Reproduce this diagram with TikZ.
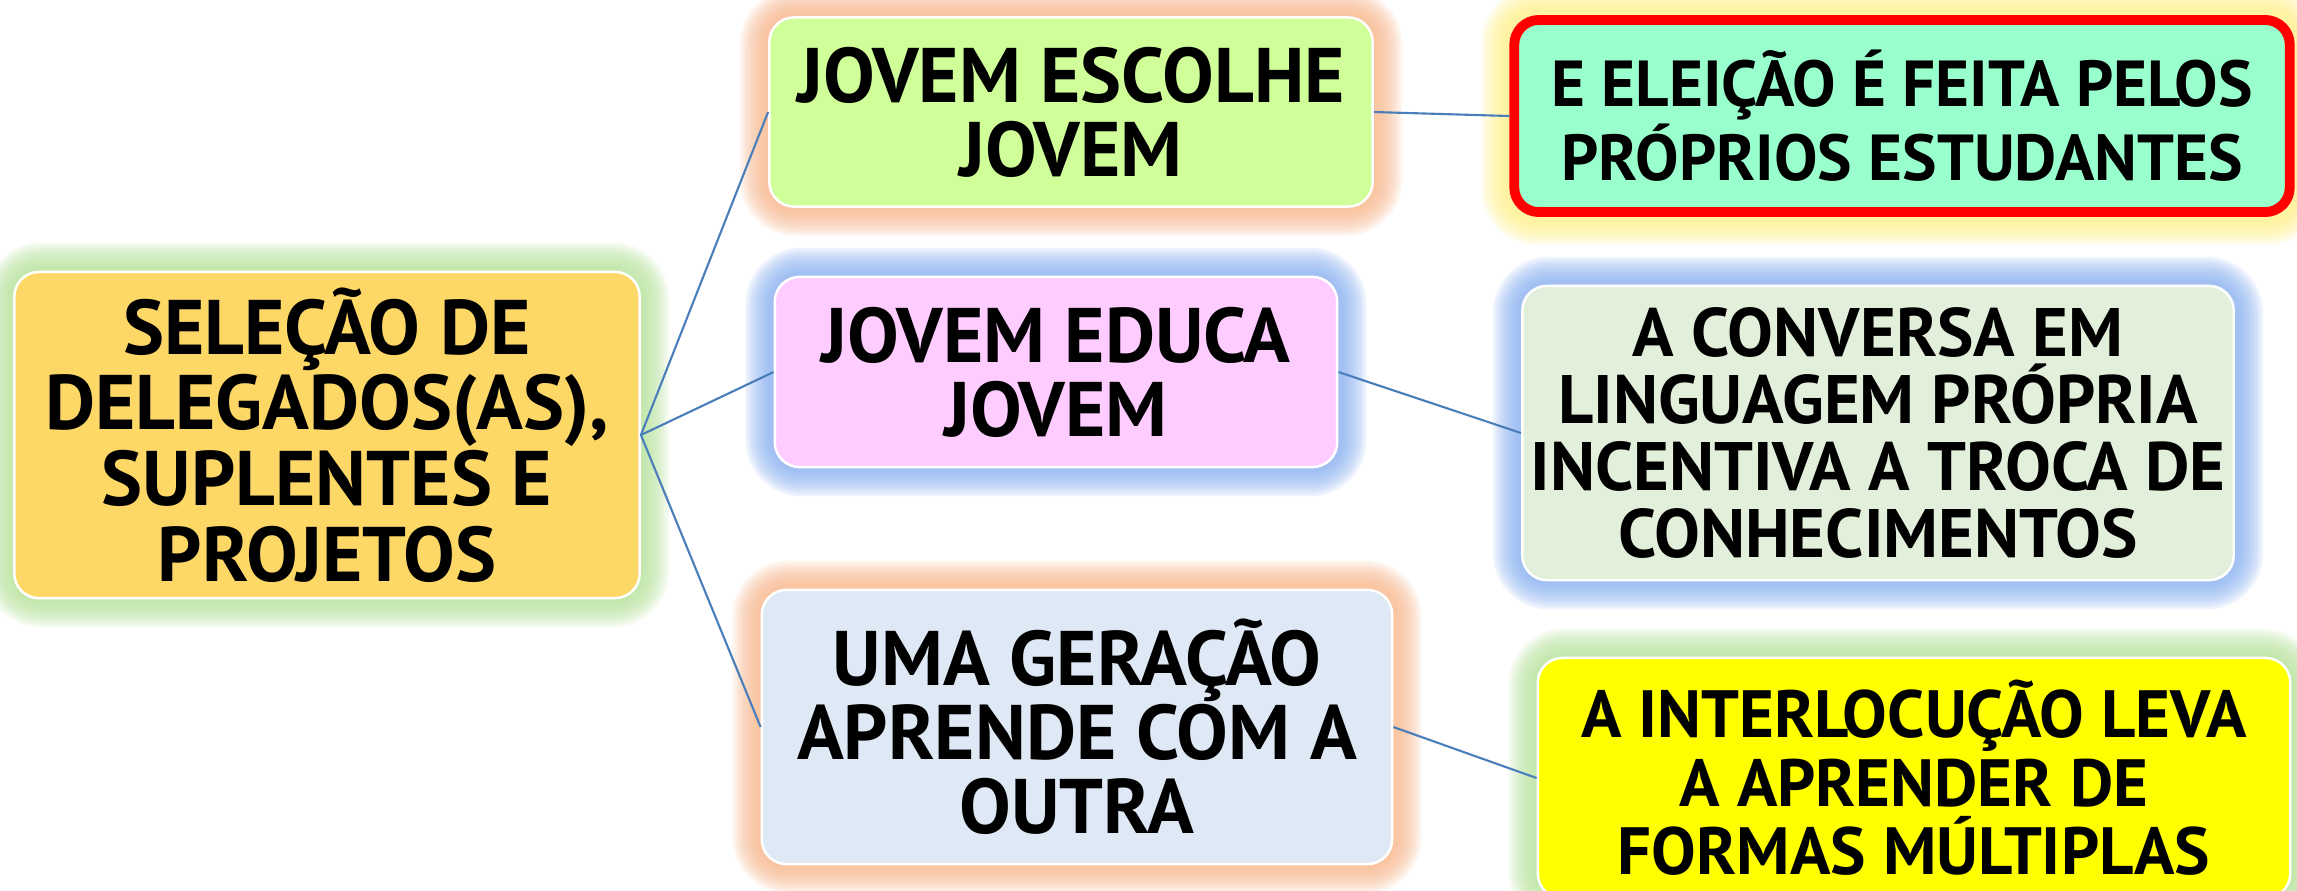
\documentclass[tikz,border=0pt]{standalone}
\usepackage{fontspec}
\setmainfont{PT Sans}
\pgfdeclarelayer{bglayer}
\pgfdeclarelayer{glowlayer}
\pgfsetlayers{bglayer,glowlayer,main}
\definecolor{rootfill}{HTML}{FDD866}
\definecolor{escfill}{HTML}{D0FF9A}
\definecolor{elefill}{HTML}{99FFCC}
\definecolor{edufill}{HTML}{FFCCFF}
\definecolor{convfill}{HTML}{E2EFDA}
\definecolor{gerfill}{HTML}{DEE9F5}
\definecolor{intfill}{HTML}{FFFF00}
\definecolor{glowgreen}{HTML}{B9E59C}
\definecolor{glowpeach}{HTML}{F9B98E}
\definecolor{glowblue}{HTML}{8DB3F2}
\definecolor{glowyellow}{HTML}{FFF38A}
\definecolor{linkblue}{HTML}{4A7EBB}
\newcommand{\glowit}[2]{%
  \begin{pgfonlayer}{glowlayer}
  \foreach \lw in {16,14.5,13,11.5,10,8.5,7,5.5,4,2.5}{%
    \draw[#2, line width=\lw pt, opacity=0.14, rounded corners=8pt] (#1.south west) rectangle (#1.north east);}
  \end{pgfonlayer}}
\begin{document}
\begin{tikzpicture}[x=0.01cm,y=-0.01cm,
  box/.style={rectangle, rounded corners=7pt, draw=white, line width=0.7pt, align=center, inner sep=0pt,
     font=\fontsize{22}{21}\selectfont\bfseries},
  rbox/.style={box, font=\fontsize{19}{19.5}\selectfont\bfseries},
  conn/.style={draw=linkblue, line width=0.6pt}]
\useasboundingbox (0,0) rectangle (2297,890);
\begin{pgfonlayer}{bglayer}
\fill[white] (0,0) rectangle (2297,890);
\end{pgfonlayer}

\node[box, fill=rootfill, minimum width=6.25cm, minimum height=3.26cm,
      font=\fontsize{22}{21.5}\selectfont\bfseries] (root) at (327,435)
  {SELEÇÃO DE\\DELEGADOS(AS),\\SUPLENTES E\\PROJETOS};
\node[box, fill=escfill, minimum width=6.03cm, minimum height=1.89cm] (esc) at (1071,112)
  {JOVEM ESCOLHE\\JOVEM};
\node[rbox, fill=elefill, draw=red, line width=2.8pt, minimum width=7.75cm, minimum height=1.92cm,
      font=\fontsize{18.5}{19.5}\selectfont\bfseries] (ele) at (1902,116)
  {E ELEIÇÃO É FEITA PELOS\\PRÓPRIOS ESTUDANTES};
\node[box, fill=edufill, minimum width=5.62cm, minimum height=1.90cm] (edu) at (1056,372)
  {JOVEM EDUCA\\JOVEM};
\node[rbox, fill=convfill, minimum width=7.11cm, minimum height=2.94cm,
      font=\fontsize{19.5}{19}\selectfont\bfseries] (conv) at (1878,433)
  {A CONVERSA EM\\LINGUAGEM PRÓPRIA\\INCENTIVA A TROCA DE\\CONHECIMENTOS};
\node[box, fill=gerfill, minimum width=6.30cm, minimum height=2.74cm] (ger) at (1077,727)
  {UMA GERAÇÃO\\APRENDE COM A\\OUTRA};
\node[rbox, fill=intfill, minimum width=7.52cm, minimum height=2.40cm] (int) at (1914,778)
  {A INTERLOCUÇÃO LEVA\\A APRENDER DE\\FORMAS MÚLTIPLAS};

\glowit{root}{glowgreen}
\glowit{esc}{glowpeach}
\glowit{ele}{glowyellow}
\glowit{edu}{glowblue}
\glowit{conv}{glowblue}
\glowit{ger}{glowpeach}
\glowit{int}{glowgreen}

\draw[conn] (root.east) -- (esc.west);
\draw[conn] (root.east) -- (edu.west);
\draw[conn] (root.east) -- (ger.west);
\draw[conn] (esc.east) -- (ele.west);
\draw[conn] (edu.east) -- (conv.west);
\draw[conn] (ger.east) -- (int.west);
\end{tikzpicture}
\end{document}
